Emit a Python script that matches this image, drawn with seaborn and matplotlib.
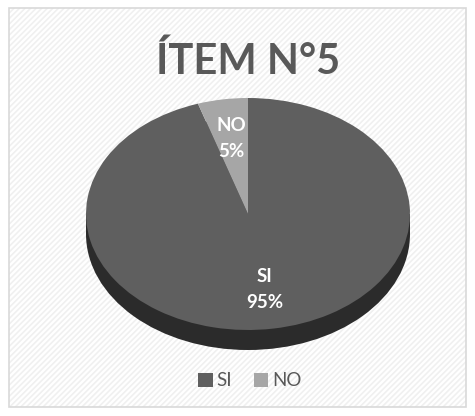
import numpy as np
import matplotlib
matplotlib.use("Agg")
import matplotlib.pyplot as plt
import seaborn as sns
from matplotlib.patches import Rectangle, Ellipse

# datos
categorias = ["SI", "NO"]
valores = [95, 5]
colores = ["#5f5f5f", "#a6a6a6"]
titulo = "ÍTEM N°5"

sns.set_theme(style="white")
plt.rcParams['font.family'] = ['Lato', 'DejaVu Sans']
plt.rcParams['hatch.linewidth'] = 1.2

W, H = 475, 416
fig = plt.figure(figsize=(W / 100, H / 100), dpi=100)

# fondo con rayas diagonales y borde
bg = fig.add_axes([0, 0, 1, 1])
bg.set_xlim(0, W)
bg.set_ylim(H, 0)
bg.axis("off")
bg.add_patch(Rectangle((9, 8), 457, 399, facecolor="white", edgecolor="#f0f0f0",
                       linewidth=0, hatch="//////"))
bg.add_patch(Rectangle((9, 8), 457, 399, facecolor="none", edgecolor="#d9d9d9", linewidth=1.2))

# geometria de la torta (pixeles)
cx, cy, rx, ry, depth = 248, 214, 162, 116, 20
d = depth / ry
x0, x1, y0, y1 = -1.1, 1.1, -1.3, 1.1
left = cx + x0 * rx
top = cy - y1 * ry
wpx = (x1 - x0) * rx
hpx = (y1 - y0) * ry
ax = fig.add_axes([left / W, 1 - (top + hpx) / H, wpx / W, hpx / H])

# lado (efecto 3D)
ax.add_patch(Ellipse((0, -d), 2, 2, facecolor="#2b2b2b", edgecolor="none", zorder=0))
ax.add_patch(Rectangle((-1, -d), 2, d, facecolor="#2b2b2b", edgecolor="none", zorder=0))

wedges, _ = ax.pie(valores, colors=colores, startangle=90, counterclock=False,
                   wedgeprops=dict(linewidth=0))
ax.set_aspect("auto")
ax.set_xlim(x0, x1)
ax.set_ylim(y0, y1)
ax.axis("off")

total = sum(valores)
for w, cat, v in zip(wedges, categorias, valores):
    ang = np.deg2rad((w.theta1 + w.theta2) / 2)
    r = 0.66
    ax.text(r * np.cos(ang), r * np.sin(ang), f"{cat}\n{v / total:.0%}", ha="center", va="center",
            color="white", fontsize=13.5, fontweight="bold", linespacing=1.6)

fig.text(cx / W, 1 - 61 / H, titulo, ha="center", va="center", fontsize=30,
         fontweight="bold", color="#595959")

leg = fig.legend(wedges, categorias, loc="center", bbox_to_anchor=(250 / W, 1 - 381 / H), ncol=2,
                 frameon=False, fontsize=13.5, handlelength=0.75, handleheight=0.75,
                 handletextpad=0.2, columnspacing=1.2)
for t in leg.get_texts():
    t.set_color("#595959")

fig.savefig("out.png", dpi=100)
